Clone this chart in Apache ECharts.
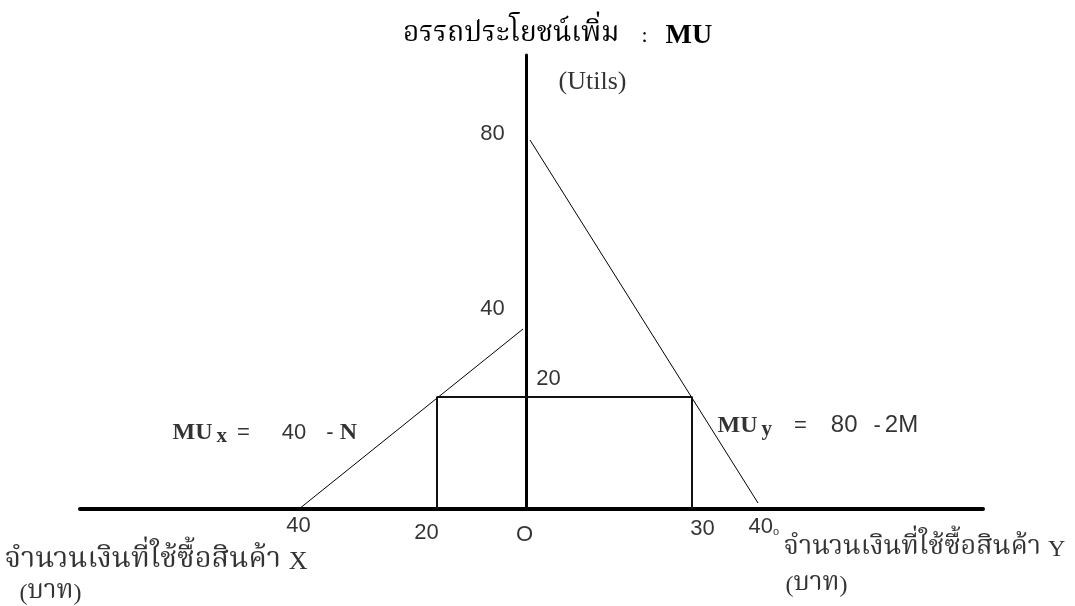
<!DOCTYPE html>
<html>
<head>
<meta charset="utf-8">
<script src="https://cdn.jsdelivr.net/npm/echarts@6.0.0/dist/echarts.min.js"></script>
<style>
  html, body { margin: 0; padding: 0; background: #fff; }
  #chart { width: 1075px; height: 606px; }
</style>
</head>
<body>
<div id="chart"></div>
<script>
// diagram units (not to scale, like the drawing): origin O where the axes cross
const xRange = [-446, 457];
const yRange = [0, 454];

// MUx = 40 - N  (money spent on X, drawn to the left)
const muxLine = [[-227, 0], [-3, 180]];
// MUy = 80 - 2M (money spent on Y, drawn to the right)
const muyLine = [[4, 369], [232, 6]];
// box at MU = 20 : X = 20 baht, Y = 30 baht
const boxLine = [[-89, 0], [-89, 112], [166, 112], [166, 0]];

// tick labels and where they sit
const tickTexts = ["80", "40", "20", "40", "20", "O", "30"];
const tickPos = [[-33, 375], [-33, 200], [23, 130], [-227, -17], [-99, -24], [-1, -26], [177, -20]];

const THAI = '"Noto Serif Thai", "Noto Sans Thai", "Noto Sans", sans-serif';
const SERIF = '"Liberation Serif", "Times New Roman", serif';
const SANS = '"Liberation Sans", Arial, sans-serif';

const richStyles = {
  th: { fontFamily: THAI, fontSize: 29, fontWeight: "normal", color: "#000" },
  thr: { fontFamily: THAI, fontSize: 27, fontWeight: "normal", color: "#000" },
  thp: { fontFamily: THAI, fontSize: 26, fontWeight: "normal", color: "#000" },
  se: { fontFamily: SERIF, fontSize: 24, fontWeight: "normal", color: "#000" },
  sl: { fontFamily: SERIF, fontSize: 26, fontWeight: "normal", color: "#000" },
  b: { fontFamily: SERIF, fontSize: 24, fontWeight: "bold", color: "#000" },
  sx: { fontFamily: SERIF, fontSize: 21, fontWeight: "bold", color: "#000", padding: [8, 0, 0, 4] },
  eq: { fontFamily: SANS, fontSize: 22, color: "#000", padding: [0, 0, 0, 10] },
  n40: { fontFamily: SANS, fontSize: 22, color: "#000", padding: [0, 0, 0, 32] },
  d: { fontFamily: SANS, fontSize: 22, color: "#000", padding: [0, 0, 0, 20] },
  nb: { fontFamily: SERIF, fontSize: 24, fontWeight: "bold", color: "#000", padding: [0, 0, 0, 6] },
  eq2: { fontFamily: SANS, fontSize: 22, color: "#000", padding: [0, 0, 0, 22] },
  n80: { fontFamily: SANS, fontSize: 24, color: "#000", padding: [0, 0, 0, 24] },
  d2: { fontFamily: SANS, fontSize: 22, color: "#000", padding: [0, 0, 0, 16] },
  m2: { fontFamily: SANS, fontSize: 24, color: "#000", padding: [0, 0, 0, 4] },
  n: { fontFamily: SANS, fontSize: 22, fontWeight: "normal", color: "#000" },
  o: { fontFamily: SANS, fontSize: 11, fontWeight: "normal", color: "#000", padding: [10, 0, 0, 0] },
};

// other texts on the drawing
const notes = [
  { text: "{sl|(Utils)}", pos: [67, 426], align: "center" },
  { text: "{b|MU}{sx|x}{eq|=}{n40|40}{d|-}{nb|N}", pos: [-353, 76], align: "left" },
  { text: "{b|MU}{sx|y}{eq2|=}{n80|80}{d2|-}{m2|2M}", pos: [192, 83], align: "left" },
  { text: "{n|40}{o|o}", pos: [223, -18], align: "left" },
  { text: "{th|จำนวนเงินที่ใช้ซื้อสินค้า }{sl|X}", pos: [-521, -54], align: "left" },
  { text: "{se|(}{thp|บาท}{se|)}", pos: [-506, -85], align: "left" },
  { text: "{thr|จำนวนเงินที่ใช้ซื้อสินค้า }{se|Y}", pos: [258, -41], align: "left" },
  { text: "{se|(}{thp|บาท}{se|)}", pos: [291, -77], align: "center" },
];

const chart = echarts.init(document.getElementById("chart"));

const labelData = tickTexts.map((t, i) => ({
  value: tickPos[i],
  label: { formatter: "{n|" + t + "}", align: "center" },
})).concat(notes.map((n) => ({
  value: n.pos,
  label: { formatter: n.text, align: n.align },
})));

const option = {
  backgroundColor: "#fff",
  animation: false,
  title: {
    text: "{th|อรรถประโยชน์เพิ่ม}{se|:}{bt|MU}",
    left: 398,
    top: 17,
    textStyle: {
      fontWeight: "normal",
      rich: {
        th: { fontFamily: THAI, fontSize: 28, fontWeight: "normal", color: "#000" },
        se: { fontFamily: SERIF, fontSize: 22, fontWeight: "normal", color: "#000", padding: [0, 0, 0, 22] },
        bt: { fontFamily: SERIF, fontSize: 28, fontWeight: "bold", color: "#000", padding: [0, 0, 0, 18] },
      },
    },
  },
  grid: { left: 80, right: 92, top: 55, bottom: 97, outerBoundsMode: "none" },
  xAxis: {
    type: "value",
    min: xRange[0],
    max: xRange[1],
    axisLine: { show: true, onZero: true, lineStyle: { color: "#000", width: 4 } },
    axisTick: { show: false },
    axisLabel: { show: false },
    splitLine: { show: false },
  },
  yAxis: {
    type: "value",
    min: yRange[0],
    max: yRange[1],
    axisLine: { show: true, onZero: true, lineStyle: { color: "#000", width: 3 } },
    axisTick: { show: false },
    axisLabel: { show: false },
    splitLine: { show: false },
  },
  series: [
    {
      name: "MUx",
      type: "line",
      data: muxLine,
      symbol: "none",
      lineStyle: { color: "#000", width: 1 },
    },
    {
      name: "MUy",
      type: "line",
      data: muyLine,
      symbol: "none",
      lineStyle: { color: "#000", width: 1 },
    },
    {
      name: "box",
      type: "line",
      data: boxLine,
      symbol: "none",
      lineStyle: { color: "#111", width: 2 },
    },
    {
      name: "labels",
      type: "scatter",
      data: labelData,
      symbolSize: 1,
      itemStyle: { color: "rgba(0,0,0,0)" },
      clip: false,
      silent: true,
      label: {
        show: true,
        color: "#000",
        position: [0, 0],
        verticalAlign: "middle",
        rich: richStyles,
      },
    },
  ],
};

chart.setOption(option);
</script>
</body>
</html>
